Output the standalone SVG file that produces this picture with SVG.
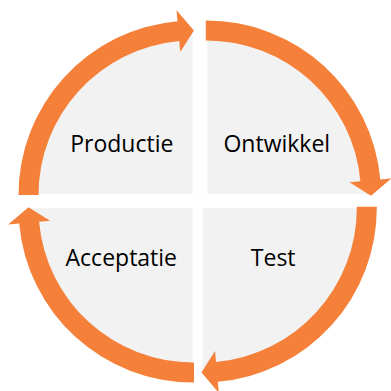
<svg xmlns="http://www.w3.org/2000/svg" width="391" height="391" viewBox="0 0 391 391">
  <style>
    .quad { fill: #F2F2F2; }
    .arrow { fill: #F5803A; }
    .label { font-family: "Open Sans", "Liberation Sans", sans-serif; font-size: 23px; fill: #000000; text-anchor: middle; }
  </style>
  <rect width="391" height="391" fill="#FFFFFF"/>
  <g id="node-productie">
    <path class="quad" d="M 192.7 194.3 L 30.7 194.3 A 162 162 0 0 1 192.7 32.3 Z"/>
    <text class="label" x="121.8" y="151.7">Productie</text>
  </g>
  <g id="node-ontwikkel">
    <path class="quad" d="M 207.3 194.3 L 207.3 32.3 A 162 162 0 0 1 369.3 194.3 Z"/>
    <text class="label" x="276.8" y="151.7">Ontwikkel</text>
  </g>
  <g id="node-test">
    <path class="quad" d="M 202.7 208.3 L 364.7 208.3 A 162 162 0 0 1 202.7 370.3 Z"/>
    <text class="label" x="273.2" y="266">Test</text>
  </g>
  <g id="node-acceptatie">
    <path class="quad" d="M 192.7 208.3 L 192.7 370.3 A 162 162 0 0 1 30.7 208.3 Z"/>
    <text class="label" x="121.3" y="266">Acceptatie</text>
  </g>
  <g id="connectors">
    <path class="arrow" d="M 18.5 195 A 174.5 174.5 0 0 1 177.49 21.19 L 176.51 10.23 L 193.9 30.5 L 180.24 52.07 L 179.27 41.11 A 154.5 154.5 0 0 0 38.5 195 Z"/>
    <path class="arrow" d="M 205.8 20.5 A 174.5 174.5 0 0 1 380.31 179.49 L 391.27 178.51 L 371 195.86 L 349.43 182.24 L 360.39 181.27 A 154.5 154.5 0 0 0 205.8 40.5 Z"/>
    <path class="arrow" d="M 376.8 206.8 A 174.5 174.5 0 0 1 217.81 381.81 L 218.79 392.77 L 201.44 372.5 L 215.06 350.93 L 216.03 361.89 A 154.5 154.5 0 0 0 356.8 206.8 Z"/>
    <path class="arrow" d="M 194 382.5 A 174.5 174.5 0 0 1 19.19 223.51 L 8.23 224.49 L 28.5 207.14 L 50.07 220.76 L 39.11 221.73 A 154.5 154.5 0 0 0 194 362.5 Z"/>
  </g>
</svg>
